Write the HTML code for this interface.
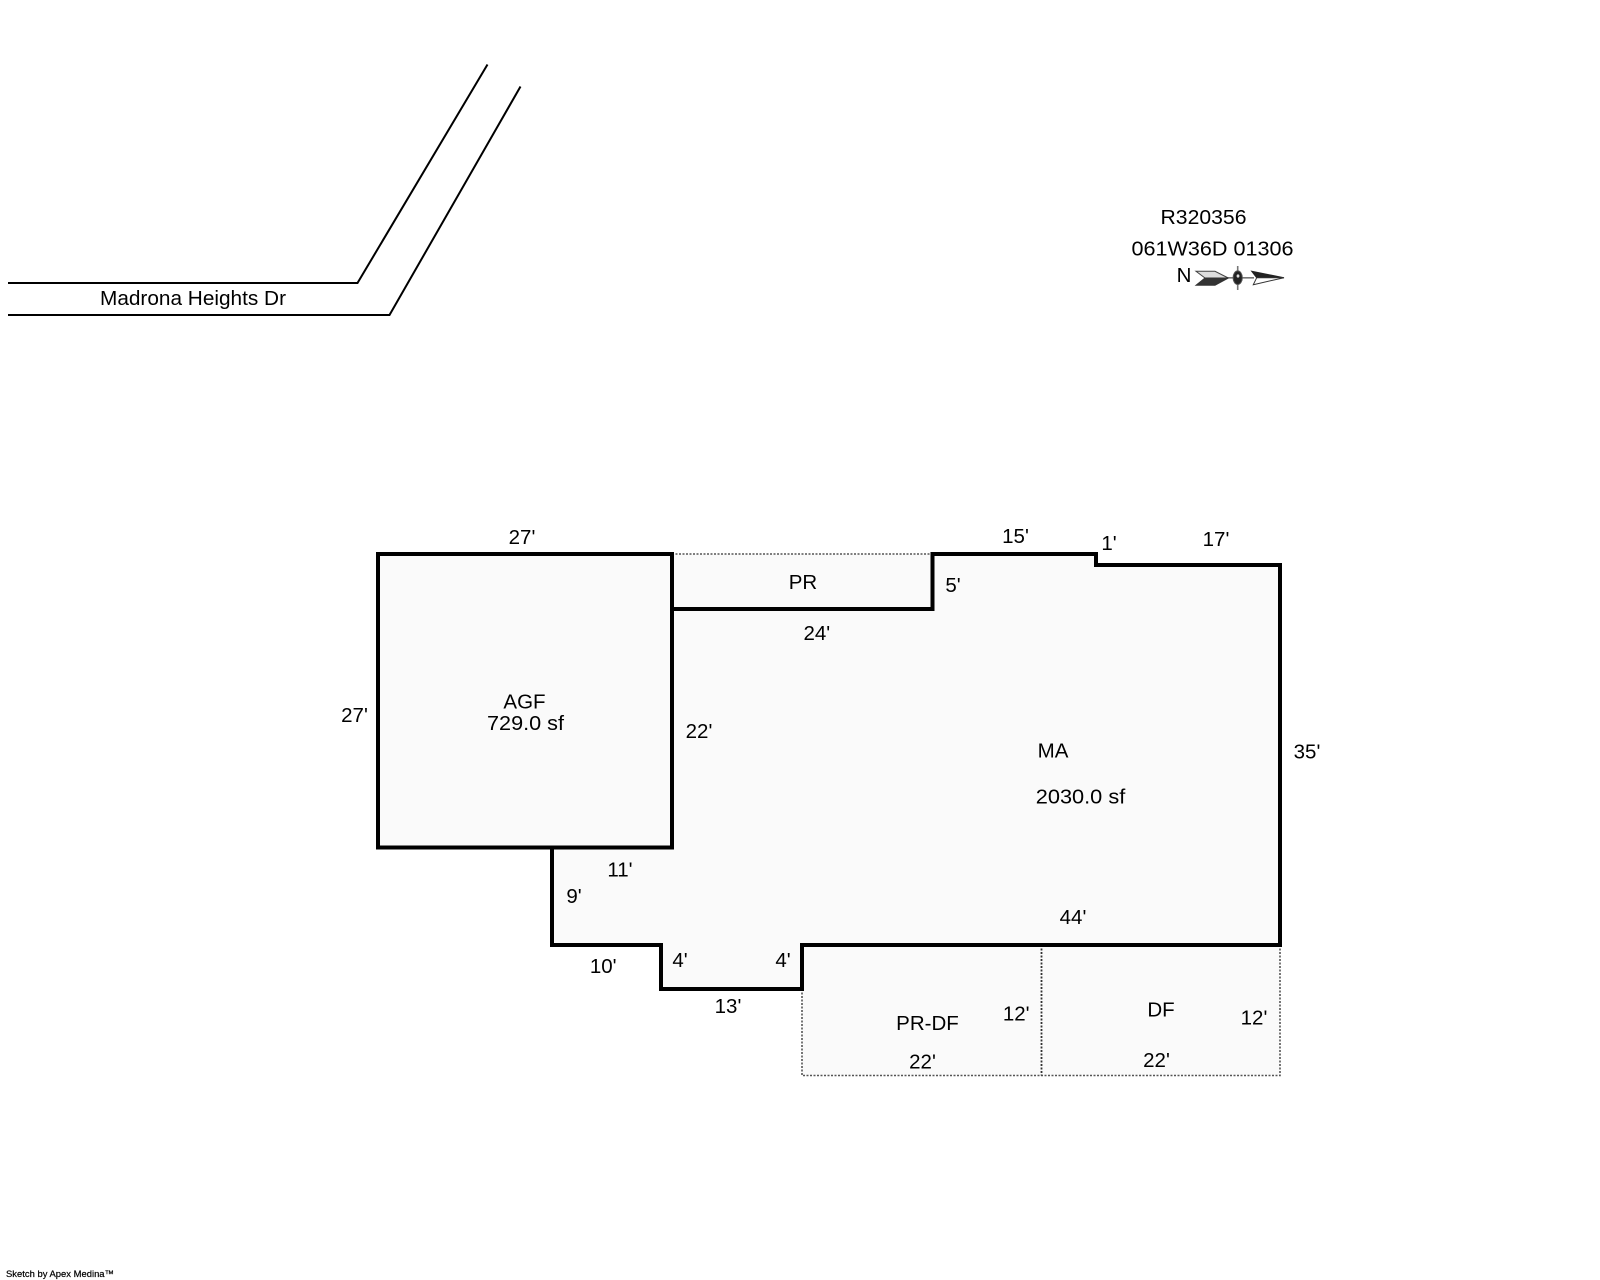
<!DOCTYPE html>
<html>
<head>
<meta charset="utf-8">
<style>
html,body{margin:0;padding:0;background:#fff;width:1600px;height:1280px;overflow:hidden}
svg{display:block}
text{font-family:"Liberation Sans",Arial,sans-serif;font-size:20.5px;fill:#000;text-anchor:middle}
</style>
</head>
<body>
<svg width="1600" height="1280" viewBox="0 0 1600 1280" xmlns="http://www.w3.org/2000/svg">
<rect width="1600" height="1280" fill="#fff"/>

<!-- road -->
<polyline points="8,283 357.5,283 487.5,64.5" fill="none" stroke="#000" stroke-width="2"/>
<polyline points="8,315 389.5,315 520.5,86.5" fill="none" stroke="#000" stroke-width="2"/>
<text x="193" y="305" textLength="186" lengthAdjust="spacingAndGlyphs">Madrona Heights Dr</text>

<!-- fills -->
<polygon points="378,554 672,554 672,554 932.5,554 1096,554 1096,565 1280,565 1280,945 802,945 802,989 661,989 661,945 552,945 552,847.5 378,847.5" fill="#fafafa"/>
<rect x="802" y="945" width="478" height="130.5" fill="#fafafa"/>

<!-- dotted outlines -->
<g fill="none" stroke="#555" stroke-width="1.6" stroke-dasharray="2 1.5">
<line x1="672" y1="554" x2="932.5" y2="554"/>
<polyline points="802,989 802,1075.5 1280,1075.5 1280,945"/>
<line x1="1041.5" y1="945" x2="1041.5" y2="1075.5" stroke="#333" stroke-width="1.8"/>
</g>

<!-- walls -->
<g fill="none" stroke="#000" stroke-width="4" stroke-linejoin="miter">
<polygon points="378,554 672,554 672,847.5 378,847.5"/>
<polyline points="672,609 932.5,609 932.5,554 1096,554 1096,565 1280,565 1280,945 802,945 802,989 661,989 661,945 552,945 552,847.5"/>
</g>

<!-- labels -->
<text x="522" y="544">27'</text>
<text x="354.5" y="722">27'</text>
<text x="524.5" y="708.5">AGF</text>
<text x="525.5" y="730" textLength="77" lengthAdjust="spacingAndGlyphs">729.0 sf</text>
<text x="699" y="738">22'</text>
<text x="803" y="589">PR</text>
<text x="816.8" y="640">24'</text>
<text x="953" y="592">5'</text>
<text x="1015.5" y="543">15'</text>
<text x="1109" y="550">1'</text>
<text x="1216" y="546">17'</text>
<text x="1053" y="757.5">MA</text>
<text x="1080.5" y="803.5" textLength="89.5" lengthAdjust="spacingAndGlyphs">2030.0 sf</text>
<text x="1307" y="758.5">35'</text>
<text x="1073" y="924">44'</text>
<text x="620" y="876.5">11'</text>
<text x="574" y="903">9'</text>
<text x="603.2" y="973">10'</text>
<text x="680" y="967">4'</text>
<text x="783" y="967">4'</text>
<text x="728" y="1013">13'</text>
<text x="927.5" y="1030">PR-DF</text>
<text x="1016.2" y="1020.5">12'</text>
<text x="922.5" y="1068.5">22'</text>
<text x="1161" y="1016.5">DF</text>
<text x="1254" y="1024.5">12'</text>
<text x="1156.5" y="1067">22'</text>

<!-- header -->
<text x="1203.5" y="224" textLength="86" lengthAdjust="spacingAndGlyphs">R320356</text>
<text x="1212.5" y="255.5" textLength="162" lengthAdjust="spacingAndGlyphs">061W36D 01306</text>
<text x="1184" y="282">N</text>

<!-- compass -->
<line x1="1226" y1="277.8" x2="1254" y2="277.8" stroke="#777" stroke-width="1.6"/>
<line x1="1237.7" y1="266" x2="1237.7" y2="290" stroke="#777" stroke-width="1.6"/>
<polygon points="1196,271.3 1215,271.3 1228.3,278 1205,278" fill="#ddd" stroke="#444" stroke-width="1"/>
<polygon points="1196,285.3 1215,285.3 1228.3,278 1205,278" fill="#333" stroke="#333" stroke-width="1"/>
<ellipse cx="1237.7" cy="277.7" rx="4.6" ry="6.8" fill="#222" stroke="#555" stroke-width="1"/>
<ellipse cx="1238" cy="276" rx="1.4" ry="1.6" fill="#ddd"/>
<polygon points="1251.7,271.3 1284,277.7 1256.7,277.7" fill="#222" stroke="#222" stroke-width="1"/>
<polygon points="1253.3,284.7 1284,277.7 1256.7,277.7" fill="#fff" stroke="#333" stroke-width="1"/>

<!-- footer -->
<text x="6" y="1277" style="font-size:9.5px;text-anchor:start;stroke:#000;stroke-width:.2" textLength="108" lengthAdjust="spacingAndGlyphs">Sketch by Apex Medina™</text>
</svg>
</body>
</html>
